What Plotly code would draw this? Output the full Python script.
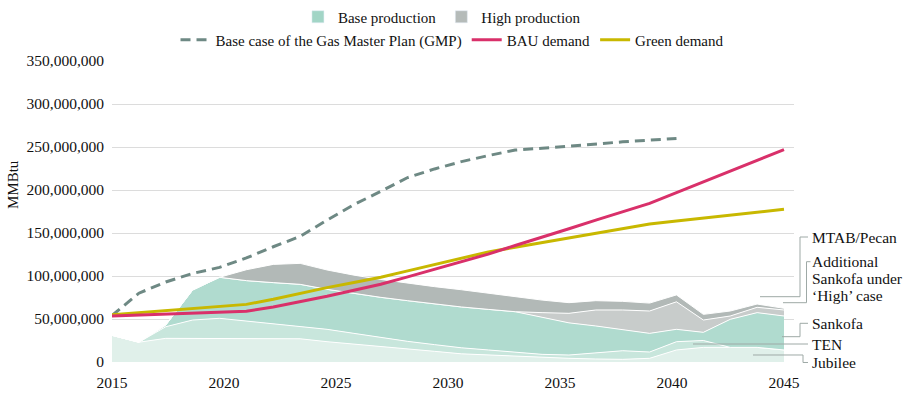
import plotly.graph_objects as go

# ---------------- data (values in million MMBtu) ----------------
# 26 evenly spaced positions used by every series in the source chart
x_pos = [2015.0, 2016.2, 2017.4, 2018.6, 2019.8, 2021.0, 2022.2, 2023.4, 2024.6,
         2025.8, 2027.0, 2028.2, 2029.4, 2030.6, 2031.8, 2033.0, 2034.2, 2035.4,
         2036.6, 2037.8, 2039.0, 2040.2, 2041.4, 2042.6, 2043.8, 2045.0]

jubilee = [31, 23, 27.5, 27.5, 27.5, 27.5, 27.5, 27, 23.6, 21, 17.8, 15.1, 12.4,
           9.5, 8.1, 7, 5.4, 4.3, 3.5, 3.1, 4.3, 14, 17, 17, 17, 14]
ten = [0, 0, 13.5, 21.3, 23.3, 20.2, 17.5, 14.9, 14.4, 12.3, 10.5, 8.9, 7.8,
       7, 5.9, 4.6, 3.5, 3.8, 7.3, 10, 7.3, 9.6, 8, 0, 0, 0]
sankofa = [0, 0, 2, 34.9, 47.7, 46.9, 47.3, 48.4, 46.5, 46.5, 46.9, 47.3, 47.2,
           47.5, 47.2, 46.9, 43.1, 37.4, 31.1, 24.9, 21.7, 14.4, 9.5, 32.6, 40.4, 39.5]
add_sankofa = [0, 0, 0, 0, 0, 0, 0, 0, 0, 0, 0, 0, 0, 0, 0, 0,
               5.4, 11.1, 18.6, 22.5, 26, 32, 14.3, 3.9, 6.2, 7]
mtab_pecan = [0, 0, 0, 0, 0, 12.7, 21.2, 24.4, 22.5, 21.2, 20.8, 20.2, 20.2,
              20, 18.6, 17.5, 14.6, 12.4, 10.8, 10, 9.2, 8, 6.6, 5.8, 3.8, 1.9]

gmp = [54, 80, 93, 103, 110, 121, 134, 146, 165, 183, 198.5, 214.5, 224.5,
       233, 240, 246.5, 248.5, 251, 254, 256, 258, 260]
bau_demand = [53.5, 54.5, 55.5, 56.5, 57.5, 59, 64, 70, 76.5, 83.5, 90.5, 99,
              108, 116.5, 125.5, 135.5, 145, 155, 165, 175, 184.5, 197, 209.5,
              222, 234.5, 247]
green_demand = [55, 57.5, 60, 62.5, 64.5, 67, 73, 80, 86.5, 92.5, 98.5, 106,
                113.5, 121, 128, 133.5, 139, 144.5, 150, 155.5, 160.5, 164,
                167.5, 170.5, 174, 177.5]

year_ticks = [2015, 2020, 2025, 2030, 2035, 2040, 2045]
value_ticks = [0, 50e6, 100e6, 150e6, 200e6, 250e6, 300e6, 350e6]

M = 1e6
def mm(vals):
    return [v * M for v in vals]

# ---------------- layout geometry ----------------
W, H = 915, 394
ML, MR, MT, MB = 112, 121, 61, 32
PW, PH = W - ML - MR, H - MT - MB

def px(x):
    return (x - ML) / PW

def py(y):
    return (H - MB - y) / PH

FONT = "Liberation Serif"
TXT = "#111111"

fig = go.Figure()

layers = [
    ("Jubilee", jubilee, "#e0f0ea"),
    ("TEN", ten, "#c8e6dc"),
    ("Sankofa", sankofa, "#b0dbcf"),
    ("Additional Sankofa under 'High' case", add_sankofa, "#c8cccb"),
    ("MTAB/Pecan", mtab_pecan, "#b2b9b7"),
]
for name, vals, col in layers:
    fig.add_trace(go.Scatter(
        x=x_pos, y=mm(vals), name=name, stackgroup="prod", mode="lines",
        line=dict(color="white", width=1), fillcolor=col,
        showlegend=False, hoverinfo="skip"))

# legend swatches (row 1)
fig.add_trace(go.Bar(x=[None], y=[None], name="Base production",
                     marker=dict(color="#a2d5c6"), legend="legend",
                     legendrank=1))
fig.add_trace(go.Bar(x=[None], y=[None], name="High production",
                     marker=dict(color="#b5bbb9"), legend="legend",
                     legendrank=2))

# lines (row 2)
fig.add_trace(go.Scatter(
    x=x_pos[:len(gmp)], y=mm(gmp), mode="lines",
    name="Base case of the Gas Master Plan (GMP)",
    line=dict(color="#6e8984", width=3, dash="10px,6px"), legend="legend2",
    legendrank=1))
fig.add_trace(go.Scatter(
    x=x_pos, y=mm(green_demand), mode="lines", name="Green demand",
    line=dict(color="#c8b800", width=3), legend="legend2", legendrank=3))
fig.add_trace(go.Scatter(
    x=x_pos, y=mm(bau_demand), mode="lines", name="BAU demand",
    line=dict(color="#d9306a", width=3), legend="legend2", legendrank=2))

# ---------------- right-hand labels with leader lines ----------------
LEAD = "#9ea9a6"
leaders = [
    [(760, 296.7), (800, 296.7), (800, 237), (808, 237)],
    [(783, 302.7), (806.5, 302.7), (806.5, 261.7), (810.5, 261.7)],
    [(782, 336.7), (800, 336.7), (800, 323.3), (808, 323.3)],
    [(693, 344), (808, 344)],
    [(753, 355), (803, 355), (803, 362.5), (808, 362.5)],
]
shapes = []
for pts in leaders:
    d = "M" + " L".join(f"{px(a):.5f},{py(b):.5f}" for a, b in pts)
    shapes.append(dict(type="path", path=d, xref="paper", yref="paper",
                       line=dict(color=LEAD, width=1), layer="above"))

labels = [
    ("MTAB/Pecan", 237),
    ("Additional", 261.7),
    ("Sankofa under", 278.5),
    ("\u2018High\u2019 case", 295.3),
    ("Sankofa", 323.3),
    ("TEN", 344),
    ("Jubilee", 362.5),
]
annotations = []
for t, yy in labels:
    annotations.append(dict(text=t, x=px(810), y=py(yy), xref="paper",
                            yref="paper", xanchor="left", yanchor="middle",
                            showarrow=False,
                            font=dict(family=FONT, size=15.5, color=TXT)))
annotations.append(dict(text="MMBtu", x=px(13), y=py(185), xref="paper",
                        yref="paper", textangle=-90, showarrow=False,
                        xanchor="center", yanchor="middle",
                        font=dict(family=FONT, size=15, color=TXT)))

legend_common = dict(orientation="h", xref="container", yref="container",
                     xanchor="center", yanchor="middle",
                     bgcolor="rgba(0,0,0,0)", itemwidth=30,
                     font=dict(family=FONT, size=15, color=TXT),
                     traceorder="normal")

fig.update_layout(
    width=W, height=H,
    margin=dict(l=ML, r=MR, t=MT, b=MB, pad=0, autoexpand=False),
    paper_bgcolor="white", plot_bgcolor="white",
    font=dict(family=FONT, size=15, color=TXT),
    showlegend=True,
    legend=dict(x=0.483, y=1 - 17 / H, **legend_common),
    legend2=dict(x=0.494, y=1 - 40 / H, **legend_common),
    xaxis=dict(range=[2015, 2015 + PW / 22.4], tickvals=year_ticks,
               showgrid=False, zeroline=False, showline=False, ticks="",
               ticklabelstandoff=9, automargin=False,
               tickfont=dict(family=FONT, size=15.5, color=TXT)),
    yaxis=dict(range=[0, 350e6], tickvals=value_ticks, tickformat=",d",
               showgrid=True, gridcolor="#dcdcdc", gridwidth=1,
               zeroline=False, showline=False, ticks="", automargin=False,
               ticklabelstandoff=7, tickfont=dict(family=FONT, size=15.5, color=TXT)),
    shapes=shapes, annotations=annotations,
    hovermode=False,
)

fig.write_html(
    "out.html",
    config={"displayModeBar": False},
    post_script="document.body.style.margin='0';document.body.style.overflow='hidden';",
)
